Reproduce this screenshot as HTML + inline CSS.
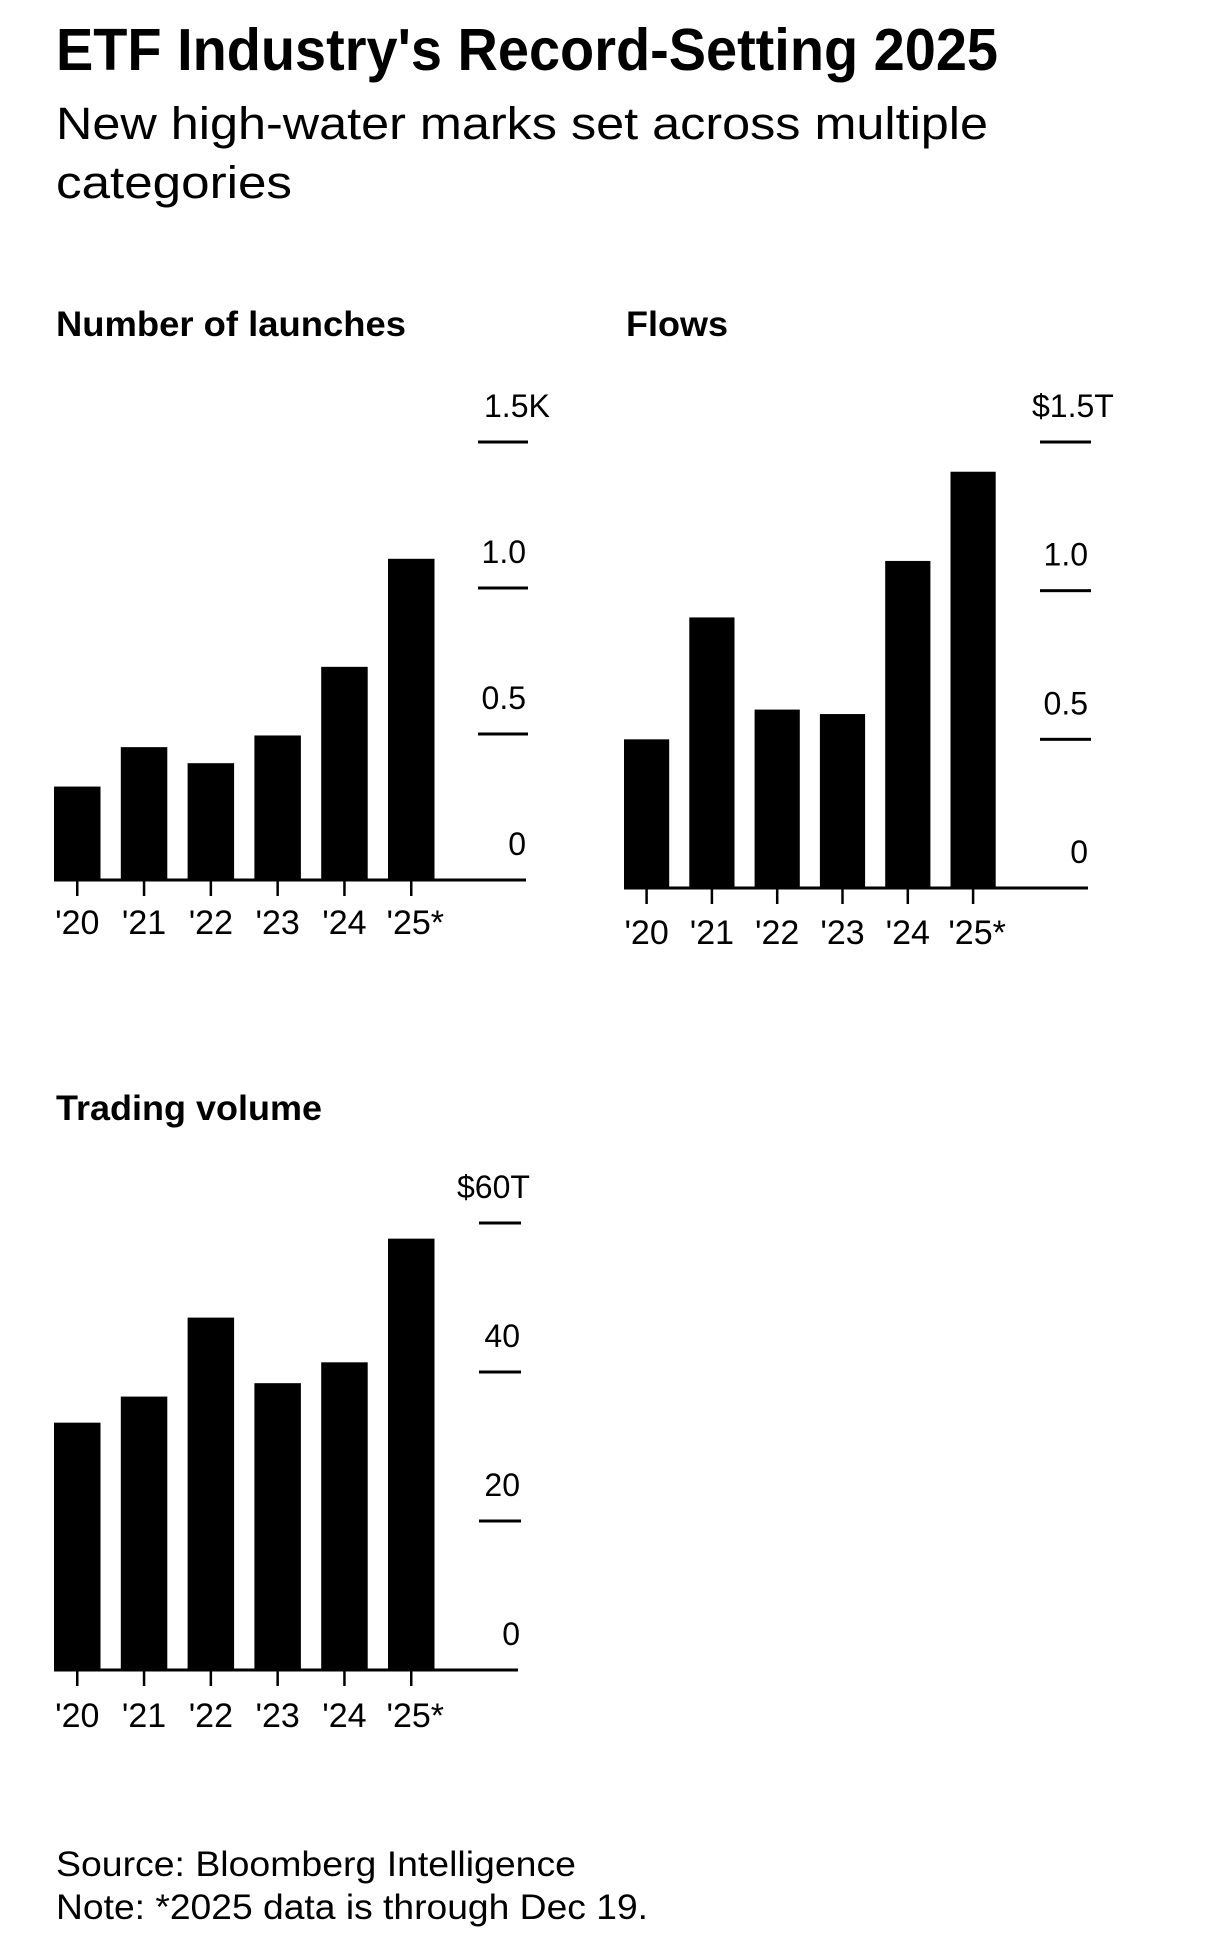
<!DOCTYPE html>
<html><head><meta charset="utf-8"><style>
html,body{margin:0;padding:0;background:#fff;}
svg{display:block;font-family:"Liberation Sans",sans-serif;}
</style></head><body>
<svg id="root" width="1206" height="1937" viewBox="0 0 1206 1937" xmlns="http://www.w3.org/2000/svg">
<rect width="1206" height="1937" fill="#fff"/>
<text x="56" y="70" font-size="59" font-weight="bold" textLength="942" lengthAdjust="spacingAndGlyphs">ETF Industry's Record-Setting 2025</text>
<text x="56" y="139" font-size="45" textLength="932" lengthAdjust="spacingAndGlyphs">New high-water marks set across multiple</text>
<text x="56" y="198" font-size="45" textLength="236" lengthAdjust="spacingAndGlyphs">categories</text>
<text x="56" y="336" font-size="35" font-weight="bold" textLength="350" lengthAdjust="spacingAndGlyphs">Number of launches</text>
<text x="626" y="336" font-size="35" font-weight="bold" textLength="102" lengthAdjust="spacingAndGlyphs">Flows</text>
<text x="56" y="1120" font-size="35" font-weight="bold" textLength="266" lengthAdjust="spacingAndGlyphs">Trading volume</text>
<text x="56" y="1876" font-size="35" textLength="520" lengthAdjust="spacingAndGlyphs">Source: Bloomberg Intelligence</text>
<text x="56" y="1919" font-size="35" textLength="592" lengthAdjust="spacingAndGlyphs">Note: *2025 data is through Dec 19.</text>
<g id="c1"></g>
<g id="c2"></g>
<g id="c3"></g>
</svg>
<script>
const categories = ["'20","'21","'22","'23","'24","'25*"];
const launchesValues = [0.32, 0.455, 0.40, 0.495, 0.73, 1.10];
const launchesTicks = [0, 0.5, 1.0, 1.5];
const launchesTickLabels = ["0", "0.5", "1.0", "1.5K"];
const flowsValues = [0.50, 0.91, 0.60, 0.585, 1.10, 1.40];
const flowsTicks = [0, 0.5, 1.0, 1.5];
const flowsTickLabels = ["0", "0.5", "1.0", "$1.5T"];
const volumeValues = [33.2, 36.7, 47.3, 38.5, 41.3, 57.9];
const volumeTicks = [0, 20, 40, 60];
const volumeTickLabels = ["0", "20", "40", "$60T"];

const NS = "http://www.w3.org/2000/svg";
function mk(tag, attrs, parent){
  const e = document.createElementNS(NS, tag);
  for (const k in attrs) e.setAttribute(k, attrs[k]);
  parent.appendChild(e);
  return e;
}
function drawChart(g, cfg, values, ticks, tickLabels, prefix){
  const y = v => cfg.base - v / (ticks[ticks.length-1]) * (cfg.base - cfg.top);
  const x = i => cfg.x0 + i * cfg.pitch;
  ticks.forEach((t, i) => {
    if (t !== 0) {
      const gl = mk("rect", {x: cfg.gx0, y: y(t) - 1.5, width: cfg.gx1 - cfg.gx0, height: 3, fill: "#000"}, g);
      
      
    }
    const last = i === ticks.length - 1;
    const lab = mk("text", last ? {x: cfg.topLabelX, y: y(t) - 25, "font-size": 32} : {x: cfg.labelR, y: y(t) - 25, "font-size": 32, "text-anchor": "end"}, g);
    lab.textContent = tickLabels[i];
    
    
  });
  values.forEach((v, i) => {
    const b = mk("rect", {x: x(i), y: y(v), width: cfg.bw, height: cfg.base - y(v), fill: "#000"}, g);
    
    
    const cx = x(i) + cfg.bw / 2;
    const tk = mk("rect", {x: cx - 1.25, y: cfg.base, width: 2.5, height: 16, fill: "#000"}, g);
    
    
    const lb = mk("text", {x: cx + (i === 5 ? 4 : 0), y: cfg.labY, "font-size": 34, "text-anchor": "middle"}, g);
    lb.textContent = categories[i];
    
    
  });
  const ax = mk("rect", {x: cfg.x0, y: cfg.base - 1.5, width: cfg.axEnd - cfg.x0, height: 3, fill: "#000"}, g);
  
  
}
drawChart(document.getElementById("c1"), {base:880, top:442, x0:54, pitch:66.8, bw:46.5, axEnd:526, gx0:478, gx1:528, labelR:526, topLabelX:484, labY:934}, launchesValues, launchesTicks, launchesTickLabels, "launches");
drawChart(document.getElementById("c2"), {base:888, top:442, x0:624, pitch:65.3, bw:45.2, axEnd:1088, gx0:1040, gx1:1091, labelR:1088, topLabelX:1032, labY:944}, flowsValues, flowsTicks, flowsTickLabels, "flows");
drawChart(document.getElementById("c3"), {base:1670, top:1223, x0:54, pitch:66.8, bw:46.5, axEnd:518, gx0:479, gx1:521, labelR:520, topLabelX:457, labY:1727}, volumeValues, volumeTicks, volumeTickLabels, "volume");
</script>
</body></html>
